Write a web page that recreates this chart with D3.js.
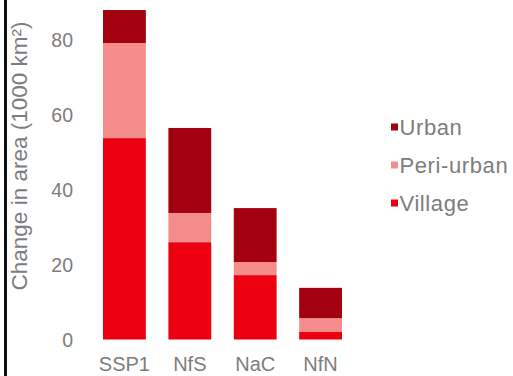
<!DOCTYPE html>
<html>
<head>
<meta charset="utf-8">
<script src="https://cdn.jsdelivr.net/npm/d3@7"></script>
<style>
  body { margin: 0; background: #fff; }
  svg { display: block; }
  text { font-family: Arial, "Liberation Sans", sans-serif; fill: #7d7d7d; }
</style>
</head>
<body>
<svg id="chart" width="513" height="376"></svg>
<script>
var scenarios = ["SSP1", "NfS", "NaC", "NfN"];
var keys = ["village", "peri", "urban"];
var village = [53.8, 26.0, 17.2, 2.0];
var periUrban = [25.4, 7.8, 3.5, 3.7];
var urban = [8.8, 22.7, 14.4, 8.1];
var yTicks = [0, 20, 40, 60, 80];
var legendLabels = ["Urban", "Peri-urban", "Village"];

var colors = {village: "#ec0010", peri: "#f58c8c", urban: "#a30010"};

var svg = d3.select("#chart"),
    margin = {top: 40, right: 171, bottom: 36.5, left: 103},
    width = +svg.attr("width") - margin.left - margin.right,
    height = +svg.attr("height") - margin.top - margin.bottom,
    g = svg.append("g").attr("transform", "translate(" + margin.left + "," + margin.top + ")");

var data = scenarios.map(function(s, i) {
  return {name: s, village: village[i], peri: periUrban[i], urban: urban[i]};
});

var x = d3.scaleBand()
    .domain(scenarios)
    .range([0, width])
    .paddingInner(0.345)
    .paddingOuter(0);

var y = d3.scaleLinear()
    .domain([0, 80])
    .range([height, 0]);

// left frame line
svg.append("rect")
    .attr("x", 4).attr("y", 0)
    .attr("width", 3).attr("height", 376)
    .attr("fill", "#111");

var series = d3.stack().keys(keys)(data);

g.selectAll(".serie")
  .data(series)
  .enter().append("g")
    .attr("class", "serie")
    .attr("fill", function(d) { return colors[d.key]; })
  .selectAll("rect")
  .data(function(d) { return d; })
  .enter().append("rect")
    .attr("x", function(d) { return x(d.data.name); })
    .attr("y", function(d) { return y(d[1]); })
    .attr("height", function(d) { return y(d[0]) - y(d[1]); })
    .attr("width", x.bandwidth());

var yAxis = g.append("g")
    .attr("transform", "translate(-30,0)")
    .call(d3.axisLeft(y).tickValues(yTicks).tickSize(0).tickPadding(0));
yAxis.select(".domain").remove();
yAxis.selectAll("text").style("font-size", "19.5px").attr("fill", "#7d7d7d").attr("dy", "0.35em");

var xAxis = g.append("g")
    .attr("transform", "translate(0," + height + ")")
    .call(d3.axisBottom(x).tickSize(0).tickPadding(17.5));
xAxis.select(".domain").remove();
xAxis.selectAll("text").style("font-size", "20px").attr("fill", "#7d7d7d");

svg.append("text")
    .attr("transform", "translate(27,156) rotate(-90)")
    .attr("text-anchor", "middle")
    .style("font-size", "22.5px")
    .text("Change in area (1000 km\u00b2)");

var legendColors = [colors.urban, colors.peri, colors.village];
var legend = svg.selectAll(".legend")
  .data(legendLabels)
  .enter().append("g")
    .attr("class", "legend")
    .attr("transform", function(d, i) { return "translate(391," + (127 + i * 38) + ")"; });

legend.append("rect")
    .attr("x", 0).attr("y", -3.5)
    .attr("width", 7).attr("height", 7)
    .attr("fill", function(d, i) { return legendColors[i]; });

legend.append("text")
    .attr("x", 8.5)
    .attr("dy", "0.35em")
    .style("font-size", "22px")
    .style("letter-spacing", "0.6px")
    .text(function(d) { return d; });
</script>
</body>
</html>
